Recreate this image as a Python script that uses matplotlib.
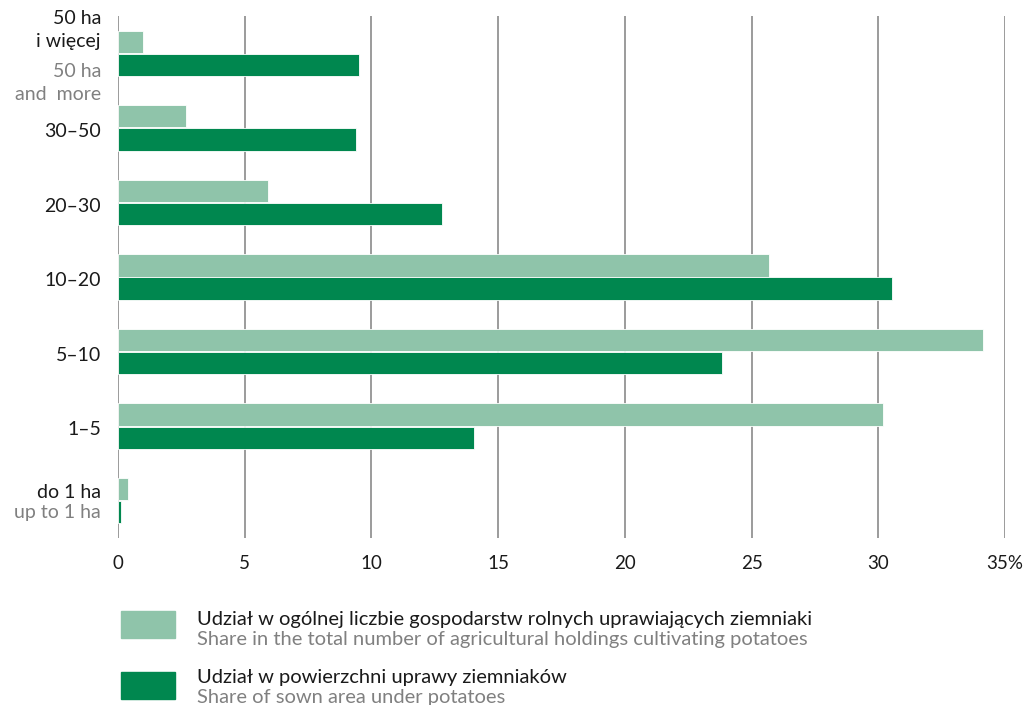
import matplotlib
matplotlib.use("Agg")
from matplotlib import pyplot as plt
from matplotlib.patches import Rectangle

# size groups, top to bottom
groups_pl = ["50 ha\ni więcej", "30–50", "20–30", "10–20", "5–10", "1–5", "do 1 ha"]
groups_en = ["50 ha\nand  more", "", "", "", "", "", "up to 1 ha"]
share_holdings = [1.0, 2.7, 5.9, 25.7, 34.15, 30.2, 0.4]
share_area = [9.5, 9.4, 12.8, 30.55, 23.85, 14.05, 0.1]
xticks = [0, 5, 10, 15, 20, 25, 30, 35]
xticklabels = ["0", "5", "10", "15", "20", "25", "30", "35%"]

light = "#8fc4aa"
dark = "#00874f"
grid = "#8a8a8a"
txt = "#1a1a1a"
gray = "#808080"

plt.rcParams["font.family"] = ["Lato", "DejaVu Sans"]

fig = plt.figure(figsize=(10.27, 7.05), dpi=100)
ax = fig.add_axes([118/1027, 1 - 538/705, (1005-118)/1027, (538-16)/705])

n = len(groups_pl)
pos = [n - 1 - i for i in range(n)]
h = 0.30

for x in xticks:
    ax.axvline(x, color=grid, lw=1.2, zorder=0)

ax.barh([p + h/2 + 0.005 for p in pos], share_holdings, height=h, color=light,
        edgecolor="white", linewidth=0.6, zorder=2)
ax.barh([p - h/2 - 0.005 for p in pos], share_area, height=h, color=dark,
        edgecolor="white", linewidth=0.6, zorder=2)

ax.set_xlim(0, 35)
ax.set_ylim(-0.5, n - 0.5)
for s in ax.spines.values():
    s.set_visible(False)
ax.set_yticks([])
ax.set_xticks(xticks)
ax.set_xticklabels(xticklabels, fontsize=13.5, color=txt)
ax.tick_params(axis="x", length=0, pad=12)

lx = -17 / 887  # right edge of labels, axes fraction
trans = ax.get_yaxis_transform()
fs = 14
for p, pl, en in zip(pos, groups_pl, groups_en):
    if "\n" in pl:
        ax.text(lx, p + 0.045, pl, transform=trans, ha="right", va="bottom",
                fontsize=fs, color=txt, linespacing=1.4)
        ax.text(lx, p - 0.13, en, transform=trans, ha="right", va="top",
                fontsize=fs, color=gray, linespacing=1.4)
    elif en:
        ax.text(lx, p + 0.0, pl, transform=trans, ha="right", va="bottom",
                fontsize=fs, color=txt)
        ax.text(lx, p - 0.05, en, transform=trans, ha="right", va="top",
                fontsize=fs, color=gray)
    else:
        ax.text(lx, p - 0.05, pl, transform=trans, ha="right", va="center",
                fontsize=fs, color=txt)

# legend
legend_items = [
    (light, "Udział w ogólnej liczbie gospodarstw rolnych uprawiających ziemniaki",
     "Share in the total number of agricultural holdings cultivating potatoes"),
    (dark, "Udział w powierzchni uprawy ziemniaków",
     "Share of sown area under potatoes"),
]
for i, (c, l1, l2) in enumerate(legend_items):
    ytop = 611 + i * 61
    fig.patches.append(Rectangle((121/1027, 1 - (ytop + 27)/705), 54/1027, 27/705,
                                 transform=fig.transFigure, color=c))
    fig.text(197/1027, 1 - (ytop + 8 - i * 2)/705, l1, fontsize=14.5, color=txt,
             va="center", ha="left")
    fig.text(197/1027, 1 - (ytop + 28 - i * 2)/705, l2, fontsize=14.5, color=gray,
             va="center", ha="left")

fig.savefig("out.png", dpi=100)
